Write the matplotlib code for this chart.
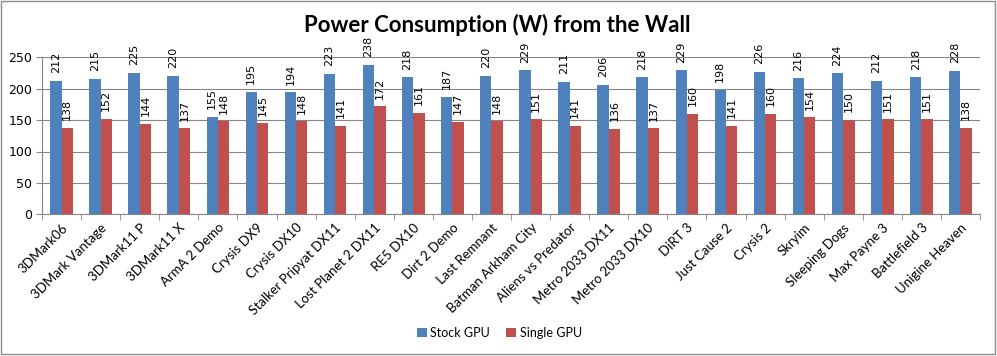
import matplotlib
matplotlib.use("Agg")
import matplotlib.pyplot as plt
from matplotlib.patches import Rectangle, Patch
import numpy as np

categories = ["3DMark06", "3DMark Vantage", "3DMark11 P", "3DMark11 X", "ArmA 2 Demo",
              "Crysis DX9", "Crysis DX10", "Stalker Pripyat DX11", "Lost Planet 2 DX11",
              "RE5 DX10", "Dirt 2 Demo", "Last Remnant", "Batman Arkham City",
              "Aliens vs Predator", "Metro 2033 DX11", "Metro 2033 DX10", "DiRT 3",
              "Just Cause 2", "Crysis 2", "Skryim", "Sleeping Dogs", "Max Payne 3",
              "Battlefield 3", "Unigine Heaven"]
stock_gpu = [212, 215, 225, 220, 155, 195, 194, 223, 238, 218, 187, 220, 229,
             211, 206, 218, 229, 198, 226, 216, 224, 212, 218, 228]
single_gpu = [138, 152, 144, 137, 148, 145, 148, 141, 172, 161, 147, 148, 151,
              141, 136, 137, 160, 141, 160, 154, 150, 151, 151, 138]
yticks = [0, 50, 100, 150, 200, 250]

blue = "#4F81BD"
red = "#C0504D"
grid_col = "#868686"

fig = plt.figure(figsize=(9.97, 3.56), dpi=100)
fig.patch.set_facecolor("white")
ax = fig.add_axes([42/997, 1-214.5/356, (980-42)/997, (214.5-57)/356])

n = len(categories)
x = np.arange(n)
w = 0.29
b1 = ax.bar(x - w/2, stock_gpu, w, color=blue, label="Stock GPU", zorder=3)
b2 = ax.bar(x + w/2, single_gpu, w, color=red, label="Single GPU", zorder=3)

for bars, vals in ((b1, stock_gpu), (b2, single_gpu)):
    for r, v in zip(bars, vals):
        ax.annotate(str(v), (r.get_x() + r.get_width()/2, v), xytext=(0, 5.5),
                    textcoords="offset points", rotation=90, ha="center", va="bottom",
                    fontsize=8, family="DejaVu Sans", color="black",
                    annotation_clip=False)

ax.set_xlim(-0.5, n - 0.5)
ax.set_ylim(0, 250)
ax.set_yticks(yticks)
ax.set_yticklabels([str(t) for t in yticks], fontsize=9, family="DejaVu Sans")
ax.yaxis.grid(True, color=grid_col, linewidth=0.8, zorder=0)
ax.set_axisbelow(True)

ax.set_xticks(x)
ax.set_xticklabels(categories, rotation=45, ha="right", rotation_mode="anchor",
                   fontsize=9.5, family="Lato")
ax.tick_params(axis="x", which="major", length=0, pad=5)
ax.set_xticks(np.arange(-0.5, n, 1.0), minor=True)
ax.tick_params(axis="x", which="minor", length=4, color=grid_col, direction="out")
ax.tick_params(axis="y", length=4, color=grid_col, direction="out", pad=3)

for s in ("top", "right"):
    ax.spines[s].set_visible(False)
ax.spines["left"].set_color(grid_col)
ax.spines["bottom"].set_color(grid_col)

fig.text(0.499, 1-25/356, "Power Consumption (W) from the Wall", ha="center", va="center",
         fontsize=16, fontweight="bold", family="Lato")

handles = [Patch(facecolor=blue, label="Stock GPU"), Patch(facecolor=red, label="Single GPU")]
fig.legend(handles=handles, loc="center", bbox_to_anchor=(0.501, 1-333/356), ncol=2,
           frameon=False, prop={"family": "Lato", "size": 9},
           handlelength=0.75, handleheight=0.75, handletextpad=0.3, columnspacing=1.3)

fig.patches.append(Rectangle((0.001, 0.006), 0.997, 0.991, transform=fig.transFigure,
                             fill=False, edgecolor="#8c8c8c", linewidth=1.0))

fig.savefig("out.png", dpi=100, facecolor="white")
